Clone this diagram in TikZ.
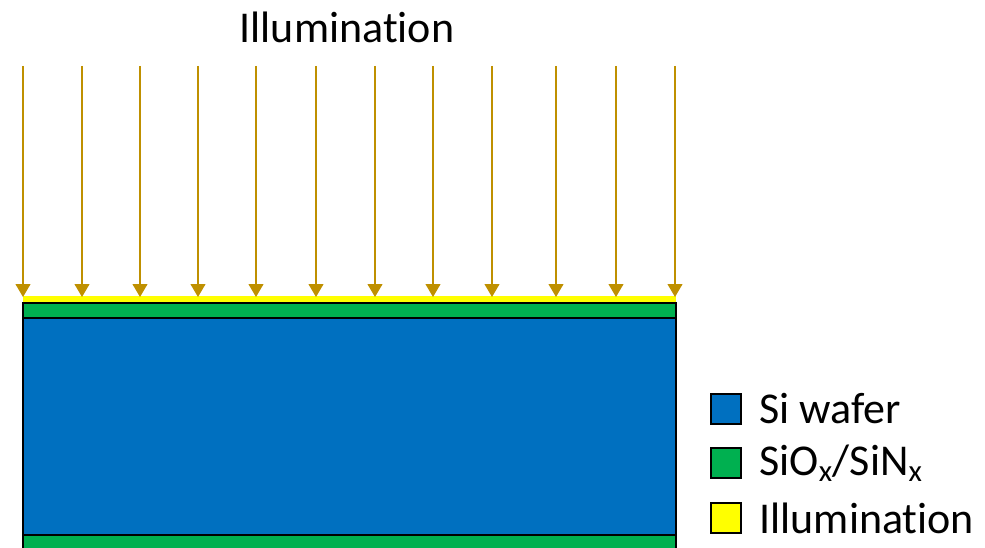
\documentclass[tikz,border=0pt]{standalone}
\usepackage{fontspec}
\setmainfont{Carlito}[Ligatures=NoCommon]
\usetikzlibrary{arrows.meta, positioning}
\definecolor{waferblue}{RGB}{0,112,192}
\definecolor{layergreen}{RGB}{0,176,80}
\definecolor{illumyellow}{RGB}{255,255,0}
\definecolor{raygold}{RGB}{191,144,0}

\begin{document}
\begin{tikzpicture}[x=1pt, y=-1pt,
    layer/.style={draw=black, line width=1.6pt},
    ray/.style={-{Triangle[length=13pt, width=15pt]}, raygold, line width=1.1pt},
    legendbox/.style={draw=black, line width=1.6pt, minimum size=30pt, inner sep=0pt},
    legendtext/.style={anchor=west, font=\fontsize{44}{48}\selectfont}]
    \useasboundingbox (0,0) rectangle (985,548);

    % Title
    \node[font=\fontsize{44}{48}\selectfont] (title) at (347,27) {Illumination};

    % Layers
    \fill[illumyellow] (23,296) rectangle (676,303);
    \draw[layer, fill=layergreen] (23,303) rectangle (676,318);
    \draw[layer, fill=waferblue] (23,318) rectangle (676,535);
    \draw[layer, fill=layergreen] (23,535) rectangle (676,570);

    % Rays
    \foreach \i/\x in {1/23,2/82,3/140,4/198,5/256,6/316,7/375,8/433,9/492,10/556,11/616,12/675} {
        \coordinate (top\i) at (\x,66);
        \coordinate (bot\i) at (\x,297);
        \draw[ray] (top\i) -- (bot\i);
    }

    % Legend
    \node[legendbox, fill=waferblue] (lwafer) at (726,409) {};
    \node[legendtext] at (756,409) {Si wafer};

    \node[legendbox, fill=layergreen] (lpass) at (726,463) {};
    \node[legendtext] at (756,463) {SiO\textsubscript{x}/SiN\textsubscript{x}};

    \node[legendbox, fill=illumyellow] (lillum) at (726,518) {};
    \node[legendtext] at (756,518) {Illumination};
\end{tikzpicture}
\end{document}
